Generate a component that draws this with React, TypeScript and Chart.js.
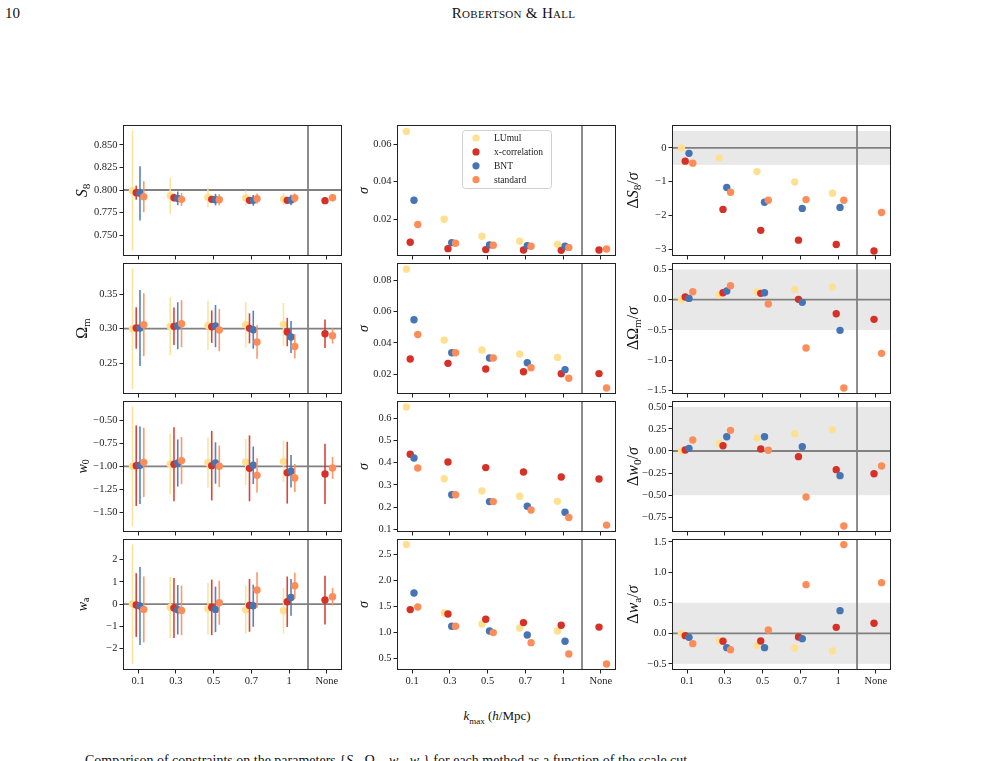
import React, { useEffect, useRef } from "react";
import { Chart, registerables } from "chart.js";

Chart.register(...registerables);

// ---- data ---------------------------------------------------------------

const kmaxLabels = ["0.1", "0.3", "0.5", "0.7", "1", "None"];
const methodNames = ["LUmul", "x-correlation", "BNT", "standard"];
const methodColors = ["#fee090", "#d73027", "#4575b4", "#fc8d59"];
const methodShift = [-0.15, -0.05, 0.05, 0.15];
// position of the divider between finite k_max and "None"
const dividerAt = 4.5;

type Row = (number | null)[];

// rows: LUmul, x-correlation, BNT, standard; columns: k_max
const s8Fiducial = 0.8;
const s8Mean: Row[] = [
  [0.7993, 0.7937, 0.7919, 0.7911, 0.79, null],
  [0.797, 0.7915, 0.7896, 0.7885, 0.7885, 0.7882],
  [0.7963, 0.7907, 0.7893, 0.7885, 0.7889, null],
  [0.7926, 0.7896, 0.7893, 0.7904, 0.7911, 0.7915],
];
const s8Sigma: Row[] = [
  [0.0667, 0.02, 0.011, 0.0083, 0.0067, null],
  [0.0078, 0.0044, 0.0039, 0.0037, 0.0035, 0.0037],
  [0.0301, 0.0076, 0.0064, 0.006, 0.0057, null],
  [0.0172, 0.0073, 0.0062, 0.0057, 0.005, 0.0042],
];
const s8Shift: Row[] = [
  [0.0, -0.3, -0.7, -1.01, -1.34, null],
  [-0.39, -1.82, -2.44, -2.73, -2.86, -3.05],
  [-0.16, -1.17, -1.61, -1.79, -1.76, null],
  [-0.45, -1.31, -1.55, -1.53, -1.55, -1.91],
];

const omFiducial = 0.3;
const omMean: Row[] = [
  [0.3, 0.3034, 0.3048, 0.3058, 0.3063, null],
  [0.301, 0.3034, 0.3029, 0.3005, 0.2952, 0.2928],
  [0.301, 0.3043, 0.3038, 0.2986, 0.288, null],
  [0.3058, 0.3072, 0.2981, 0.2808, 0.2745, 0.2899],
];
const omSigma: Row[] = [
  [0.087, 0.0418, 0.0355, 0.0329, 0.0308, null],
  [0.0298, 0.027, 0.0234, 0.0217, 0.0204, 0.0205],
  [0.0548, 0.0338, 0.0304, 0.0274, 0.023, null],
  [0.0454, 0.0338, 0.0304, 0.0242, 0.0175, 0.0113],
];
const omShift: Row[] = [
  [0.0, 0.077, 0.132, 0.171, 0.209, null],
  [0.044, 0.116, 0.105, 0.006, -0.231, -0.325],
  [0.022, 0.143, 0.116, -0.044, -0.507, null],
  [0.132, 0.231, -0.072, -0.798, -1.459, -0.887],
];

const w0Fiducial = -1;
const w0Mean: Row[] = [
  [-1.0, -0.975, -0.96, -0.953, -0.946, null],
  [-0.993, -0.978, -0.993, -1.022, -1.069, -1.083],
  [-0.989, -0.964, -0.964, -0.989, -1.054, null],
  [-0.957, -0.938, -1.0, -1.098, -1.127, -1.018],
];
const w0Sigma: Row[] = [
  [0.651, 0.328, 0.273, 0.249, 0.226, null],
  [0.438, 0.403, 0.378, 0.358, 0.336, 0.327],
  [0.421, 0.256, 0.225, 0.204, 0.177, null],
  [0.376, 0.256, 0.225, 0.187, 0.153, 0.119],
];
const w0Shift: Row[] = [
  [0.0, 0.087, 0.147, 0.196, 0.242, null],
  [0.011, 0.06, 0.023, -0.064, -0.211, -0.257],
  [0.03, 0.162, 0.162, 0.049, -0.279, null],
  [0.125, 0.234, 0.008, -0.521, -0.849, -0.17],
];

const waFiducial = 0;
const waMean: Row[] = [
  [0.0, -0.15, -0.21, -0.256, -0.3, null],
  [-0.045, -0.18, -0.15, -0.06, 0.105, 0.18],
  [-0.09, -0.256, -0.24, -0.075, 0.3, null],
  [-0.24, -0.286, 0.06, 0.632, 0.827, 0.331],
];
const waSigma: Row[] = [
  [2.69, 1.372, 1.16, 1.083, 1.026, null],
  [1.436, 1.353, 1.25, 1.186, 1.135, 1.1],
  [1.756, 1.115, 1.026, 0.949, 0.827, null],
  [1.487, 1.115, 0.994, 0.801, 0.583, 0.39],
];
const waShift: Row[] = [
  [0.0, -0.12, -0.197, -0.24, -0.29, null],
  [-0.038, -0.131, -0.126, -0.06, 0.098, 0.164],
  [-0.066, -0.235, -0.235, -0.087, 0.372, null],
  [-0.169, -0.268, 0.055, 0.798, 1.454, 0.831],
];

// y tick values per panel
const s8Ticks = [0.75, 0.775, 0.8, 0.825, 0.85];
const s8SigmaTicks = [0.02, 0.04, 0.06];
const s8ShiftTicks = [-3, -2, -1, 0];
const omTicks = [0.25, 0.3, 0.35];
const omSigmaTicks = [0.02, 0.04, 0.06, 0.08];
const omShiftTicks = [-1.5, -1.0, -0.5, 0, 0.5];
const w0Ticks = [-1.5, -1.25, -1.0, -0.75, -0.5];
const w0SigmaTicks = [0.1, 0.2, 0.3, 0.4, 0.5, 0.6];
const w0ShiftTicks = [-0.75, -0.5, -0.25, 0, 0.25, 0.5];
const waTicks = [-2, -1, 0, 1, 2];
const waSigmaTicks = [0.5, 1.0, 1.5, 2.0, 2.5];
const waShiftTicks = [-0.5, 0, 0.5, 1.0, 1.5];

// ---- layout -------------------------------------------------------------

const COL_LEFT = [123, 397, 672];
const ROW_TOP = [125, 263, 401, 539];
const PLOT_W = 219;
const PLOT_H = 131;
const AXIS_W = 75;
const PAD_T = 14;
const PAD_R = 14;
const X_H = 14;
const X_H_LAST = 30;
const TITLE_GAP = [41, 34, 39];

const SERIF = '"Liberation Serif", "Times New Roman", serif';
const INK = "#222";
const GUIDE = "#808080";

type Seg = { t: string; it?: boolean; sub?: boolean };

interface PanelSpec {
  kind: "mean" | "sigma" | "shift";
  col: number;
  row: number;
  min: number;
  max: number;
  ticks: number[];
  decimals: number;
  ref?: number;
  band?: boolean;
  title: Seg[];
  titleSize: number;
  values: Row[];
  sigma?: Row[];
  legend?: boolean;
}

const fmt = (v: number, d: number) => {
  const s = Math.abs(v).toFixed(d);
  return v < -1e-12 ? "\u2212" + s : s;
};

function withAlpha(hex: string, a: number) {
  const n = parseInt(hex.slice(1), 16);
  return `rgba(${(n >> 16) & 255},${(n >> 8) & 255},${n & 255},${a})`;
}

function drawRotatedLabel(ctx: CanvasRenderingContext2D, segs: Seg[], size: number, cx: number, cy: number) {
  ctx.save();
  ctx.translate(cx, cy);
  ctx.rotate(-Math.PI / 2);
  const parts = segs.map((s) => {
    const fs = s.sub ? size * 0.7 : size;
    const font = `${s.it ? "italic " : ""}${fs}px ${SERIF}`;
    ctx.font = font;
    return { ...s, font, w: ctx.measureText(s.t).width };
  });
  const total = parts.reduce((a, p) => a + p.w, 0);
  let x = -total / 2;
  const base = size * 0.33;
  ctx.fillStyle = "#111";
  ctx.textBaseline = "alphabetic";
  for (const p of parts) {
    ctx.font = p.font;
    ctx.fillText(p.t, x, base + (p.sub ? size * 0.2 : 0));
    x += p.w;
  }
  ctx.restore();
}

function buildConfig(spec: PanelSpec): any {
  const lastRow = spec.row === 3;
  const datasets: any[] = [];
  for (let m = 0; m < methodNames.length; m++) {
    const pts: { x: number; y: number }[] = [];
    spec.values[m].forEach((v, k) => {
      if (v == null) return;
      const x = k + methodShift[m];
      pts.push({ x, y: v });
      if (spec.sigma) {
        const s = spec.sigma[m][k] as number;
        datasets.push({
          data: [
            { x, y: v - s },
            { x, y: v + s },
          ],
          showLine: true,
          pointRadius: 0,
          borderColor: withAlpha(methodColors[m], 0.9),
          borderWidth: 1.6,
        });
      }
    });
    datasets.push({
      label: methodNames[m],
      data: pts,
      showLine: false,
      pointRadius: 3.7,
      pointBackgroundColor: methodColors[m],
      pointBorderWidth: 0,
    });
  }
  // first dataset in the list is painted first
  datasets.forEach((d, i) => (d.order = datasets.length - 1 - i));

  const tickFont = { family: SERIF, size: 10.5 };
  const grid = {
    display: true,
    drawOnChartArea: false,
    drawTicks: true,
    tickLength: 3.5,
    color: INK,
    lineWidth: 1,
  };

  const decor = {
    id: "decor",
    beforeDatasetsDraw(chart: any) {
      const { ctx, chartArea: a, scales } = chart;
      const x = scales.x;
      const y = scales.y;
      ctx.save();
      ctx.beginPath();
      ctx.rect(a.left, a.top, a.right - a.left, a.bottom - a.top);
      ctx.clip();
      if (spec.band) {
        const y1 = y.getPixelForValue(0.5);
        const y2 = y.getPixelForValue(-0.5);
        ctx.fillStyle = "#e8e8e8";
        ctx.fillRect(a.left, y1, a.right - a.left, y2 - y1);
      }
      ctx.strokeStyle = GUIDE;
      ctx.lineWidth = 1.8;
      if (spec.ref != null) {
        const py = y.getPixelForValue(spec.ref);
        ctx.beginPath();
        ctx.moveTo(a.left, py);
        ctx.lineTo(a.right, py);
        ctx.stroke();
      }
      const px = x.getPixelForValue(dividerAt);
      ctx.beginPath();
      ctx.moveTo(px, a.top);
      ctx.lineTo(px, a.bottom);
      ctx.stroke();
      ctx.restore();
    },
    afterDatasetsDraw(chart: any) {
      const { ctx, chartArea: a } = chart;
      ctx.save();
      ctx.strokeStyle = INK;
      ctx.lineWidth = 1;
      ctx.strokeRect(Math.round(a.left) + 0.5, Math.round(a.top) + 0.5, Math.round(a.right - a.left) - 1, Math.round(a.bottom - a.top) - 1);
      ctx.restore();
      drawRotatedLabel(ctx, spec.title, spec.titleSize, a.left - TITLE_GAP[spec.col], (a.top + a.bottom) / 2);
      if (spec.legend) {
        const L = a.left + 65;
        const T = a.top + 5;
        const W = 89;
        const H = 58;
        ctx.save();
        ctx.fillStyle = "rgba(255,255,255,0.85)";
        ctx.strokeStyle = "#d0d0d0";
        ctx.lineWidth = 1;
        ctx.beginPath();
        (ctx as any).roundRect(L + 0.5, T + 0.5, W, H, 3);
        ctx.fill();
        ctx.stroke();
        ctx.font = `9.5px ${SERIF}`;
        ctx.textBaseline = "middle";
        methodNames.forEach((name, i) => {
          const cy = T + 8 + i * 13.9;
          ctx.fillStyle = methodColors[i];
          ctx.beginPath();
          ctx.arc(L + 14, cy, 3.6, 0, Math.PI * 2);
          ctx.fill();
          ctx.fillStyle = INK;
          ctx.fillText(name, L + 32, cy + 0.5);
        });
        ctx.restore();
      }
    },
  };

  return {
    type: "scatter",
    data: { datasets },
    plugins: [decor],
    options: {
      responsive: false,
      animation: false,
      devicePixelRatio: 1,
      events: [],
      layout: { padding: { top: PAD_T, right: PAD_R, left: 0, bottom: 0 } },
      plugins: { legend: { display: false }, tooltip: { enabled: false } },
      scales: {
        x: {
          type: "linear",
          min: -0.4,
          max: 5.4,
          afterBuildTicks: (s: any) => {
            s.ticks = kmaxLabels.map((_, i) => ({ value: i }));
          },
          afterFit: (s: any) => {
            s.height = lastRow ? X_H_LAST : X_H;
          },
          ticks: {
            display: lastRow,
            autoSkip: false,
            maxRotation: 0,
            padding: 1,
            font: tickFont,
            color: INK,
            callback: (v: any) => kmaxLabels[Math.round(Number(v))] ?? "",
          },
          grid,
          border: { display: false },
        },
        y: {
          type: "linear",
          min: spec.min,
          max: spec.max,
          afterBuildTicks: (s: any) => {
            s.ticks = spec.ticks.map((v) => ({ value: v }));
          },
          afterFit: (s: any) => {
            s.width = AXIS_W;
          },
          ticks: {
            autoSkip: false,
            padding: 2,
            font: tickFont,
            color: INK,
            callback: (v: any) => fmt(Number(v), spec.decimals),
          },
          grid,
          border: { display: false },
        },
      },
    },
  };
}

function Panel({ spec }: { spec: PanelSpec }) {
  const ref = useRef<HTMLCanvasElement>(null);
  const lastRow = spec.row === 3;
  const w = AXIS_W + PLOT_W + PAD_R;
  const h = PAD_T + PLOT_H + (lastRow ? X_H_LAST : X_H);
  useEffect(() => {
    const chart = new Chart(ref.current as HTMLCanvasElement, buildConfig(spec));
    return () => chart.destroy();
  }, [spec]);
  return (
    <canvas
      ref={ref}
      width={w}
      height={h}
      style={{
        position: "absolute",
        left: COL_LEFT[spec.col] - AXIS_W,
        top: ROW_TOP[spec.row] - PAD_T,
        width: w,
        height: h,
      }}
    />
  );
}

const sigmaTitle: Seg[] = [{ t: "\u03c3", it: true }];
const params = [
  { sym: [{ t: "S", it: true }, { t: "8", sub: true }] as Seg[], size: 16, fid: s8Fiducial, mean: s8Mean, sigma: s8Sigma, shift: s8Shift,
    mRange: [0.7267, 0.8722], sRange: [0.0005, 0.0701], dRange: [-3.2, 0.68],
    mTicks: s8Ticks, sTicks: s8SigmaTicks, dTicks: s8ShiftTicks, dec: [3, 2, 0] },
  { sym: [{ t: "\u03a9" }, { t: "m", sub: true }] as Seg[], size: 16, fid: omFiducial, mean: omMean, sigma: omSigma, shift: omShift,
    mRange: [0.2059, 0.3947], sRange: [0.0075, 0.0909], dRange: [-1.559, 0.607],
    mTicks: omTicks, sTicks: omSigmaTicks, dTicks: omShiftTicks, dec: [2, 2, 1] },
  { sym: [{ t: "w", it: true }, { t: "0", sub: true }] as Seg[], size: 14, fid: w0Fiducial, mean: w0Mean, sigma: w0Sigma, shift: w0Shift,
    mRange: [-1.714, -0.29], sRange: [0.088, 0.678], dRange: [-0.917, 0.566],
    mTicks: w0Ticks, sTicks: w0SigmaTicks, dTicks: w0ShiftTicks, dec: [2, 1, 2] },
  { sym: [{ t: "w", it: true }, { t: "a", sub: true }] as Seg[], size: 14, fid: waFiducial, mean: waMean, sigma: waSigma, shift: waShift,
    mRange: [-2.97, 2.93], sRange: [0.275, 2.794], dRange: [-0.601, 1.546],
    mTicks: waTicks, sTicks: waSigmaTicks, dTicks: waShiftTicks, dec: [0, 1, 1] },
];

const panels: PanelSpec[] = params.flatMap((p, row) => [
  {
    kind: "mean", col: 0, row, min: p.mRange[0], max: p.mRange[1], ticks: p.mTicks, decimals: p.dec[0],
    ref: p.fid, title: p.sym, titleSize: p.size, values: p.mean, sigma: p.sigma,
  },
  {
    kind: "sigma", col: 1, row, min: p.sRange[0], max: p.sRange[1], ticks: p.sTicks, decimals: p.dec[1],
    title: sigmaTitle, titleSize: 14, values: p.sigma, legend: row === 0,
  },
  {
    kind: "shift", col: 2, row, min: p.dRange[0], max: p.dRange[1], ticks: p.dTicks, decimals: p.dec[2],
    ref: 0, band: true, title: [{ t: "\u0394" }, ...p.sym, { t: "/" }, { t: "\u03c3", it: true }], titleSize: 16, values: p.shift,
  },
] as PanelSpec[]);

export default function App() {
  return (
    <div style={{ position: "absolute", left: 0, top: 0, width: 990, height: 761, overflow: "hidden", background: "#fff", fontFamily: SERIF, color: "#111" }}>
      <div style={{ position: "absolute", left: 5, top: 5, fontSize: 15 }}>10</div>
      <div style={{ position: "absolute", left: 0, width: 1027, top: 5, textAlign: "center", fontSize: 15, fontVariant: "small-caps", letterSpacing: 0.3 }}>
        Robertson &amp; Hall
      </div>
      {panels.map((p, i) => (
        <Panel key={i} spec={p} />
      ))}
      <div style={{ position: "absolute", left: 0, width: 994, top: 708, textAlign: "center", fontSize: 13 }}>
        <i>k</i>
        <sub style={{ fontSize: 9 }}>max</sub> (<i>h</i>/Mpc)
      </div>
      <div style={{ position: "absolute", left: 85, top: 753, fontSize: 14, whiteSpace: "nowrap" }}>
        Comparison of constraints on the parameters {"{"}<i>S</i><sub style={{ fontSize: 9 }}>8</sub>, Ω<sub style={{ fontSize: 9 }}>m</sub>, <i>w</i>
        <sub style={{ fontSize: 9 }}>0</sub>, <i>w</i><sub style={{ fontSize: 9 }}>a</sub>{"}"} for each method as a function of the scale cut
      </div>
    </div>
  );
}
